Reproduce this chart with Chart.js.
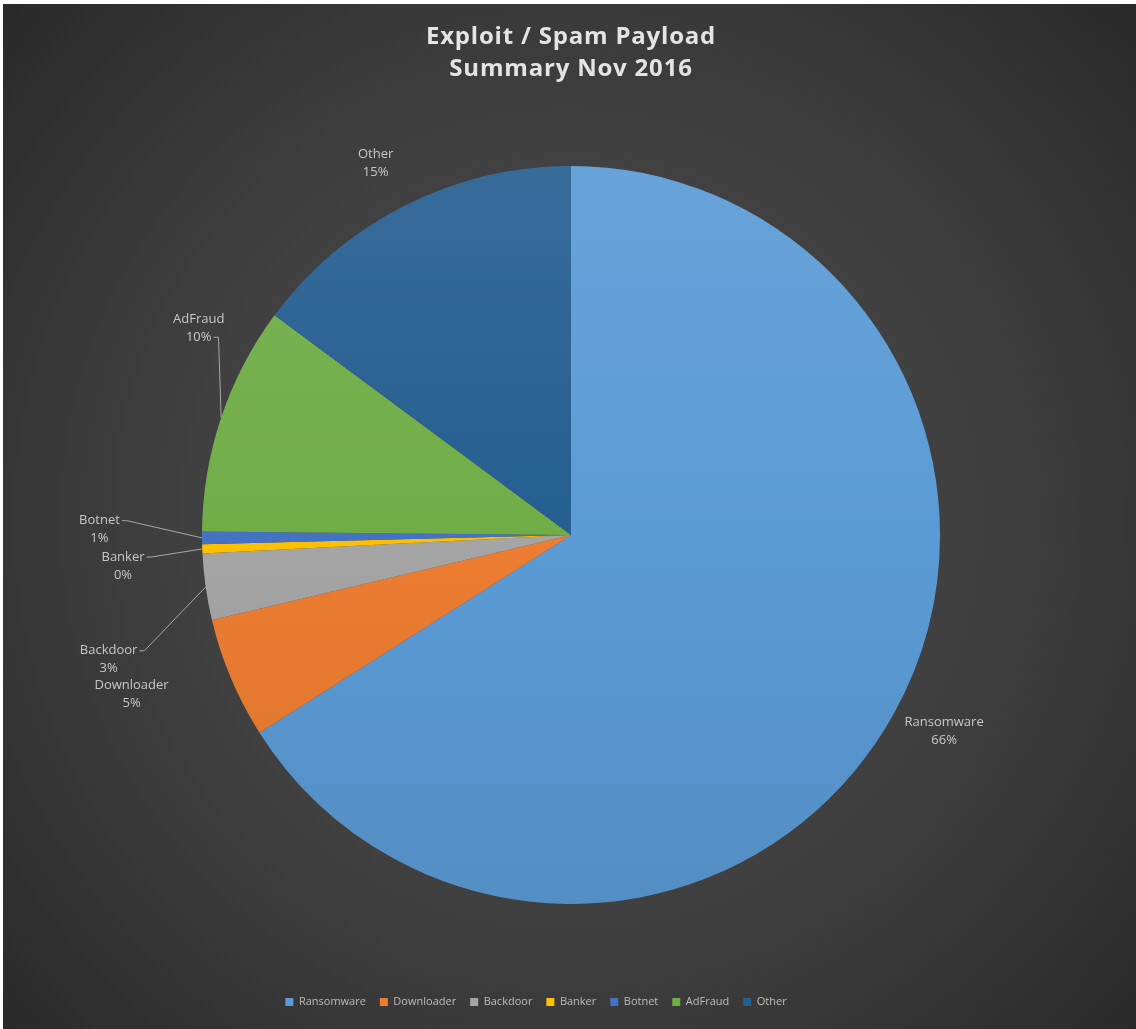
<!DOCTYPE html>
<html>
<head>
<meta charset="utf-8">
<title>Exploit / Spam Payload Summary Nov 2016</title>
<script src="https://cdn.jsdelivr.net/npm/chart.js@4.4.1/dist/chart.umd.min.js"></script>
<style>
  html, body { margin: 0; padding: 0; background: #fff; }
  canvas { display: block; }
</style>
</head>
<body>
<canvas id="myChart" width="1136" height="1029"></canvas>
<script>
const categories = ["Ransomware", "Downloader", "Backdoor", "Banker", "Botnet", "AdFraud", "Other"];
const shares = [66.0, 5.3, 2.9, 0.4, 0.55, 10.0, 14.85];
const titleLines = ["Exploit / Spam Payload", "Summary Nov 2016"];

// styling
const sliceColors = ["#5b9bd5", "#ed7d31", "#a5a5a5", "#ffc000", "#4472c4", "#70ad47", "#255e91"];
// label placement: angle shift from slice middle (deg) and distance as a multiple of radius
const labelShift = [-1.0, 2.9, -7.0, -1.8, 1.1, 10.5, -1.0];
const labelDist = [1.143, 1.267, 1.298, 1.217, 1.278, 1.154, 1.138];
// which text row the leader line starts from (null = no leader)
const leaderRow = [null, null, 0, 0, 0, 1, null];

const total = shares.reduce((a, b) => a + b, 0);

function shade(hex, amt) {
  const n = parseInt(hex.slice(1), 16);
  let r = n >> 16, g = (n >> 8) & 255, b = n & 255;
  const f = (c) => amt >= 0 ? Math.round(c + (255 - c) * amt) : Math.round(c * (1 + amt));
  return "rgb(" + f(r) + "," + f(g) + "," + f(b) + ")";
}

function sliceFill(context) {
  const chart = context.chart;
  const area = chart.chartArea;
  const base = sliceColors[context.dataIndex];
  if (!area) return base;
  const g = chart.ctx.createLinearGradient(0, area.top, 0, area.bottom);
  g.addColorStop(0, shade(base, 0.1));
  g.addColorStop(0.5, base);
  g.addColorStop(1, shade(base, -0.1));
  return g;
}

const backgroundPlugin = {
  id: "backgroundPlugin",
  beforeDraw(chart) {
    const ctx = chart.ctx;
    const w = chart.width, h = chart.height;
    const g = ctx.createRadialGradient(570, 520, 40, 570, 520, 820);
    g.addColorStop(0, "#4f4f4f");
    g.addColorStop(0.55, "#3c3c3c");
    g.addColorStop(1, "#262626");
    ctx.fillStyle = g;
    ctx.fillRect(0, 0, w, h);
    ctx.fillStyle = "#ffffff";
    ctx.fillRect(0, 0, w, 4);
    ctx.fillRect(0, 0, 3, h);
    // the original title is loosely spaced
    ctx.letterSpacing = "0.8px";
  },
  afterDraw(chart) {
    chart.ctx.letterSpacing = "0px";
  },
  afterLayout(chart) {
    const legend = chart.legend;
    // legend sits a little left of the pie centre in the original
    legend.left -= 35;
    legend.right -= 35;
    if (!legend._plainDraw) {
      const draw = legend.draw;
      legend.draw = function () {
        const ctx = chart.ctx;
        const spacing = ctx.letterSpacing;
        ctx.letterSpacing = "0px";
        draw.apply(this, arguments);
        ctx.letterSpacing = spacing;
      };
      legend._plainDraw = true;
    }
  }
};

const sliceLabels = {
  id: "sliceLabels",
  afterDatasetsDraw(chart) {
    const ctx = chart.ctx;
    const arcs = chart.getDatasetMeta(0).data;
    ctx.save();
    ctx.letterSpacing = "0px";
    ctx.font = "13px 'Open Sans'";
    ctx.textAlign = "center";
    ctx.textBaseline = "middle";
    arcs.forEach((arc, i) => {
      const { x, y, startAngle, endAngle, outerRadius } = arc.getProps(["x", "y", "startAngle", "endAngle", "outerRadius"], true);
      const mid = (startAngle + endAngle) / 2;
      const la = mid + labelShift[i] * Math.PI / 180;
      const cx = x + Math.cos(la) * outerRadius * labelDist[i];
      const cy = y + Math.sin(la) * outerRadius * labelDist[i];
      const lines = [categories[i], Math.round(shares[i] / total * 100) + "%"];
      const rows = [cy - 9, cy + 9];
      ctx.fillStyle = "#c8c8c8";
      lines.forEach((t, k) => ctx.fillText(t, cx, rows[k]));
      if (leaderRow[i] !== null) {
        const r = leaderRow[i];
        const tw = ctx.measureText(lines[r]).width;
        const sx = cx + tw / 2 + 2;
        const sy = rows[r];
        const px = x + Math.cos(mid) * outerRadius;
        const py = y + Math.sin(mid) * outerRadius;
        ctx.strokeStyle = "#a8a8a8";
        ctx.lineWidth = 1;
        ctx.beginPath();
        ctx.moveTo(sx, sy);
        ctx.lineTo(sx + 5, sy);
        ctx.lineTo(px, py);
        ctx.stroke();
      }
    });
    ctx.restore();
  }
};

function createChart() {
  const ctx = document.getElementById("myChart").getContext("2d");
  new Chart(ctx, {
    type: "pie",
    data: {
      labels: categories,
      datasets: [
        {
          label: "Payload share",
          data: shares,
          backgroundColor: sliceFill,
          borderWidth: 0,
          radius: 369,
        },
      ],
    },
    options: {
      responsive: false,
      animation: false,
      devicePixelRatio: 1,
      layout: {
        padding: { left: 6, right: 0, top: 0, bottom: 11.5 },
      },
      plugins: {
        title: {
          display: true,
          text: titleLines,
          color: "#e4e4e4",
          font: { family: "'Open Sans'", size: 24, weight: "bold", lineHeight: 1.3 },
          padding: { top: 22, bottom: 3.1 },
        },
        legend: {
          position: "bottom",
          labels: {
            color: "#bdbdbd",
            font: { family: "'Open Sans'", size: 11 },
            boxWidth: 8,
            boxHeight: 8,
            padding: 14,
            generateLabels: () =>
              categories.map((t, i) => ({
                text: t,
                fillStyle: sliceColors[i],
                strokeStyle: sliceColors[i],
                lineWidth: 0,
                fontColor: "#bdbdbd",
                index: i,
              })),
          },
        },
        tooltip: { enabled: false },
      },
    },
    plugins: [backgroundPlugin, sliceLabels],
  });
}

createChart();
</script>
</body>
</html>
